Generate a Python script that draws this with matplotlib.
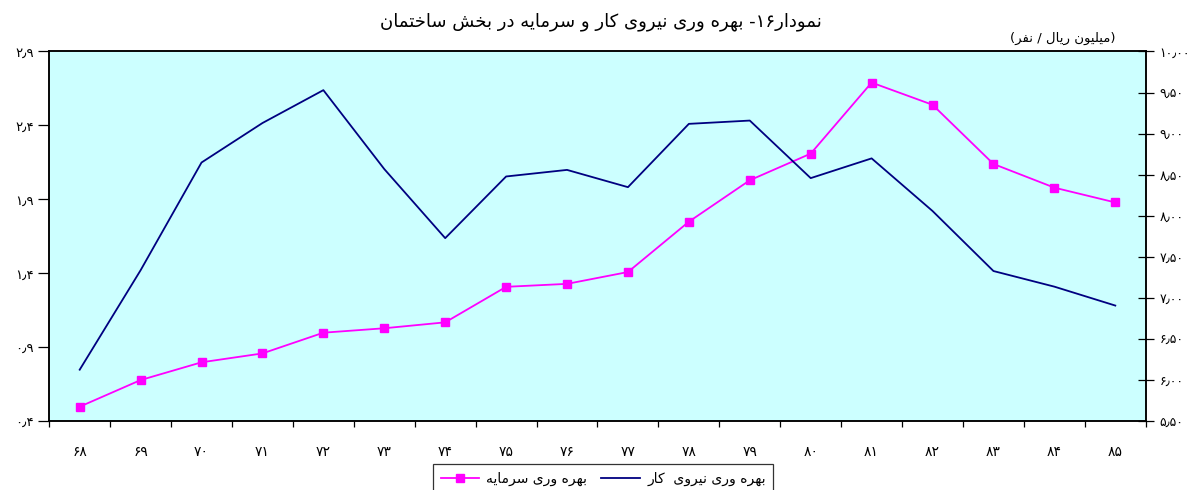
import matplotlib
matplotlib.use('Agg')
import matplotlib.pyplot as plt
from matplotlib.ticker import FixedLocator, NullFormatter

# data
years = ['68', '69', '70', '71', '72', '73', '74', '75', '76',
         '77', '78', '79', '80', '81', '82', '83', '84', '85']
capital = [0.50, 0.68, 0.80, 0.86, 1.00, 1.03, 1.07, 1.31, 1.33,
           1.41, 1.75, 2.03, 2.21, 2.69, 2.54, 2.14, 1.98, 1.88]
labour = [6.13, 7.34, 8.65, 9.13, 9.53, 8.57, 7.73, 8.48, 8.56,
          8.35, 9.12, 9.16, 8.46, 8.70, 8.06, 7.33, 7.14, 6.91]
left_ticks = [0.4, 0.9, 1.4, 1.9, 2.4, 2.9]
right_ticks = [5.5, 6.0, 6.5, 7.0, 7.5, 8.0, 8.5, 9.0, 9.5, 10.0]

title = 'نمودار۱۶- بهره وری نیروی کار و سرمایه در بخش ساختمان'
unit = '(میلیون ریال / نفر)'
capital_label = 'بهره وری سرمایه'
labour_label = 'بهره وری نیروی  کار'

# --- minimal Persian shaping (isolated, final, initial, medial) ---
FORMS = {
    '\u0627': ('\uFE8D', '\uFE8E', None, None),
    '\u0628': ('\uFE8F', '\uFE90', '\uFE91', '\uFE92'),
    '\u062A': ('\uFE95', '\uFE96', '\uFE97', '\uFE98'),
    '\u062E': ('\uFEA5', '\uFEA6', '\uFEA7', '\uFEA8'),
    '\u062F': ('\uFEA9', '\uFEAA', None, None),
    '\u0631': ('\uFEAD', '\uFEAE', None, None),
    '\u0633': ('\uFEB1', '\uFEB2', '\uFEB3', '\uFEB4'),
    '\u0634': ('\uFEB5', '\uFEB6', '\uFEB7', '\uFEB8'),
    '\u0641': ('\uFED1', '\uFED2', '\uFED3', '\uFED4'),
    '\u0644': ('\uFEDD', '\uFEDE', '\uFEDF', '\uFEE0'),
    '\u0645': ('\uFEE1', '\uFEE2', '\uFEE3', '\uFEE4'),
    '\u0646': ('\uFEE5', '\uFEE6', '\uFEE7', '\uFEE8'),
    '\u0647': ('\uFEE9', '\uFEEA', '\uFEEB', '\uFEEC'),
    '\u0648': ('\uFEED', '\uFEEE', None, None),
    '\u06CC': ('\uFBFC', '\uFBFD', '\uFBFE', '\uFBFF'),
    '\u06A9': ('\uFB8E', '\uFB8F', '\uFB90', '\uFB91'),
}
PERSIAN_DIGITS = '۰۱۲۳۴۵۶۷۸۹'


def dual(c):
    return c in FORMS and FORMS[c][2] is not None


def fa(text):
    out = []
    for i, c in enumerate(text):
        if c not in FORMS:
            out.append(c)
            continue
        prev = text[i - 1] if i > 0 else ''
        nxt = text[i + 1] if i + 1 < len(text) else ''
        join_prev = dual(prev)
        join_next = dual(c) and nxt in FORMS
        iso, fin, ini, med = FORMS[c]
        if join_prev and join_next:
            out.append(med)
        elif join_prev:
            out.append(fin)
        elif join_next:
            out.append(ini)
        else:
            out.append(iso)
    vis = ''.join(out)[::-1]
    # keep digit runs left-to-right, mirror brackets
    res, run = [], ''
    for c in vis:
        if c in PERSIAN_DIGITS:
            run += c
        else:
            res.append(run[::-1])
            run = ''
            res.append({'(': ')', ')': '('}.get(c, c))
    res.append(run[::-1])
    return ''.join(res)


def fa_num(s):
    return s.translate(str.maketrans('0123456789.', PERSIAN_DIGITS + '\u066B'))


plt.rcParams['font.family'] = ['DejaVu Sans']

fig = plt.figure(figsize=(12.01, 4.90), dpi=100)
ax = fig.add_axes([0.041, 0.1398, 0.913, 0.7551])
ax2 = ax.twinx()

x = list(range(len(years)))
ax.plot(x, capital, color='#FF00FF', lw=1.3, marker='s', ms=6,
        markeredgecolor='#FF00FF', label=fa(capital_label), zorder=3)
ax2.plot(x, labour, color='#000080', lw=1.3, label=fa(labour_label))

ax.set_facecolor('#CCFFFF')
ax.set_xlim(-0.5, len(years) - 0.5)
ax.set_ylim(0.4, 2.9)
ax2.set_ylim(5.5, 10.0)

ax.set_yticks(left_ticks)
ax.set_yticklabels([fa_num('%.1f' % v) for v in left_ticks])
ax2.set_yticks(right_ticks)
ax2.set_yticklabels([fa_num('%.2f' % v) for v in right_ticks])

ax.xaxis.set_major_locator(FixedLocator([i - 0.5 for i in range(len(years) + 1)]))
ax.xaxis.set_major_formatter(NullFormatter())
ax.xaxis.set_minor_locator(FixedLocator(x))
ax.set_xticklabels([fa_num(y) for y in years], minor=True)
ax.tick_params(axis='x', which='major', direction='out', length=4, width=0.9)
ax.tick_params(axis='x', which='minor', length=0, pad=17, labelsize=10)
ax.tick_params(axis='y', direction='out', length=8, width=0.9, labelsize=9.5, pad=3)
ax2.tick_params(axis='y', direction='inout', length=12, width=0.9, labelsize=9, pad=4)

for a in (ax, ax2):
    for s in a.spines.values():
        s.set_linewidth(1.1)
        s.set_color('black')

fig.text(0.5, 0.955, fa(title), ha='center', va='center', fontsize=13)
fig.text(0.885, 0.921, fa(unit), ha='center', va='center', fontsize=9.5)

h1, l1 = ax.get_legend_handles_labels()
h2, l2 = ax2.get_legend_handles_labels()
leg = fig.legend(h1 + h2, l1 + l2, ncol=2, loc='upper left',
                 bbox_to_anchor=(0.3605, 0.053), frameon=True, fancybox=False,
                 fontsize=10, handlelength=2.8, columnspacing=1.0,
                 borderpad=0.55, handletextpad=0.5, borderaxespad=0)
leg.get_frame().set_edgecolor('black')
leg.get_frame().set_linewidth(0.9)

fig.savefig('out.png', dpi=100)
